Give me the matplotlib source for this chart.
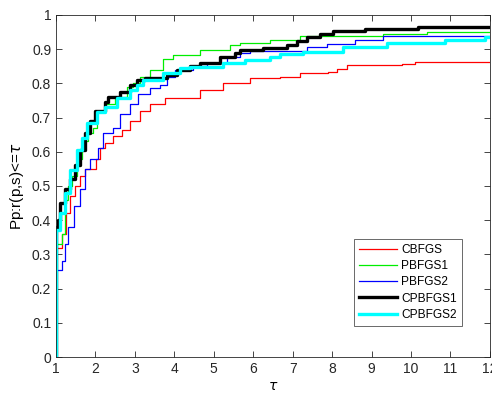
import matplotlib
matplotlib.use('Agg')
import matplotlib.pyplot as plt

# performance profile data (tau, fraction)
cbfgs_t = [1.0, 1.0, 1.15, 1.25, 1.35, 1.48, 1.61, 1.74, 2.01, 2.12, 2.24, 2.44, 2.67, 2.88, 3.13, 3.38, 3.76,
           4.65, 5.23, 5.92, 6.68, 7.18, 7.89, 8.12, 8.38, 9.77, 10.1]
cbfgs_p = [0.0, 0.32, 0.36, 0.42, 0.47, 0.50, 0.53, 0.55, 0.58, 0.61, 0.625, 0.645, 0.665, 0.69, 0.72, 0.74, 0.757,
           0.78, 0.80, 0.816, 0.819, 0.829, 0.833, 0.842, 0.853, 0.858, 0.863]

pbfgs1_t = [1.0, 1.0, 1.15, 1.23, 1.3, 1.41, 1.53, 1.66, 1.81, 1.94, 2.04, 2.24, 2.5, 2.8, 2.95, 3.13, 3.38, 3.71,
            3.97, 4.65, 5.41, 5.66, 6.42, 7.18, 9.29, 10.4]
pbfgs1_p = [0.0, 0.33, 0.36, 0.46, 0.50, 0.53, 0.58, 0.63, 0.655, 0.67, 0.72, 0.74, 0.76, 0.79, 0.80, 0.82, 0.84, 0.87,
            0.883, 0.898, 0.912, 0.918, 0.927, 0.939, 0.943, 0.949]

pbfgs2_t = [1.0, 1.0, 1.15, 1.23, 1.3, 1.46, 1.61, 1.74, 1.86, 2.06, 2.19, 2.44, 2.62, 2.88, 3.08, 3.38, 3.64, 3.81,
            4.02, 4.47, 4.83, 5.33, 5.66, 5.92, 7.36, 7.87, 8.58, 9.29]
pbfgs2_p = [0.0, 0.254, 0.28, 0.33, 0.38, 0.44, 0.49, 0.55, 0.58, 0.61, 0.655, 0.67, 0.71, 0.74, 0.77, 0.785, 0.795, 0.82,
            0.84, 0.85, 0.86, 0.877, 0.889, 0.895, 0.907, 0.915, 0.927, 0.938]

cpbfgs1_t = [1.0, 1.0, 1.05, 1.1, 1.23, 1.35, 1.48, 1.61, 1.74, 1.86, 1.99, 2.24, 2.32, 2.62, 2.88, 3.05, 3.26, 3.81,
             4.07, 4.4, 4.65, 5.16, 5.54, 5.66, 6.25, 6.86, 7.11, 7.36, 7.69, 8.02, 8.83, 10.18]
cpbfgs1_p = [0.0, 0.38, 0.40, 0.45, 0.49, 0.52, 0.56, 0.605, 0.655, 0.69, 0.72, 0.745, 0.76, 0.775, 0.795, 0.81, 0.815, 0.825,
             0.84, 0.85, 0.86, 0.877, 0.89, 0.898, 0.903, 0.912, 0.924, 0.936, 0.944, 0.953, 0.959, 0.965]

cpbfgs2_t = [1.0, 1.0, 1.1, 1.23, 1.35, 1.53, 1.66, 1.79, 2.04, 2.24, 2.55, 2.88, 3.05, 3.2, 3.71, 4.14, 4.4, 5.23,
             5.79, 6.42, 6.68, 7.26, 8.27, 9.39, 10.86, 11.87]
cpbfgs2_p = [0.0, 0.37, 0.42, 0.48, 0.547, 0.605, 0.64, 0.684, 0.716, 0.73, 0.757, 0.78, 0.795, 0.81, 0.83, 0.845, 0.848, 0.86,
             0.868, 0.877, 0.886, 0.892, 0.907, 0.918, 0.927, 0.936]

names = ['CBFGS', 'PBFGS1', 'PBFGS2', 'CPBFGS1', 'CPBFGS2']
colors = ['red', '#00ee00', 'blue', 'black', 'cyan']
widths = [0.9, 0.9, 0.9, 2.4, 2.4]
series = [(cbfgs_t, cbfgs_p), (pbfgs1_t, pbfgs1_p), (pbfgs2_t, pbfgs2_p),
          (cpbfgs1_t, cpbfgs1_p), (cpbfgs2_t, cpbfgs2_p)]

plt.rcParams['font.family'] = ['Liberation Sans', 'DejaVu Sans']
fig = plt.figure(figsize=(4.92, 3.95), dpi=100)
ax = fig.add_axes([0.1138, 0.0962, 0.882, 0.866])

for (t, p), nm, c, w in zip(series, names, colors, widths):
    # extend last value to right edge
    ax.step(t + [12], p + [p[-1]], where='post', color=c, lw=w, label=nm)

ax.set_xlim(1, 12)
ax.set_ylim(0, 1)
ax.set_xticks(range(1, 13))
ax.set_yticks([i / 10 for i in range(11)])
ax.set_yticklabels(['0', '0.1', '0.2', '0.3', '0.4', '0.5', '0.6', '0.7', '0.8', '0.9', '1'])
ax.tick_params(direction='in', top=True, right=True, labelsize=10, colors='#262626', length=4, width=0.6)
for s in ax.spines.values():
    s.set_color('#262626')
    s.set_linewidth(0.6)

ax.set_xlabel(r'$\tau$', fontsize=10, labelpad=2)
ax.set_ylabel(r'Pp:r(p,s)<=$\tau$', fontsize=11, labelpad=4)

leg = ax.legend(loc='lower left', bbox_to_anchor=(0.687, 0.09), fontsize=8.6, handlelength=3.1,
                fancybox=False, edgecolor='#262626', borderpad=0.45, labelspacing=0.35, handletextpad=0.4,
                borderaxespad=0)
leg.get_frame().set_linewidth(0.6)

fig.savefig('out.png', dpi=100)
